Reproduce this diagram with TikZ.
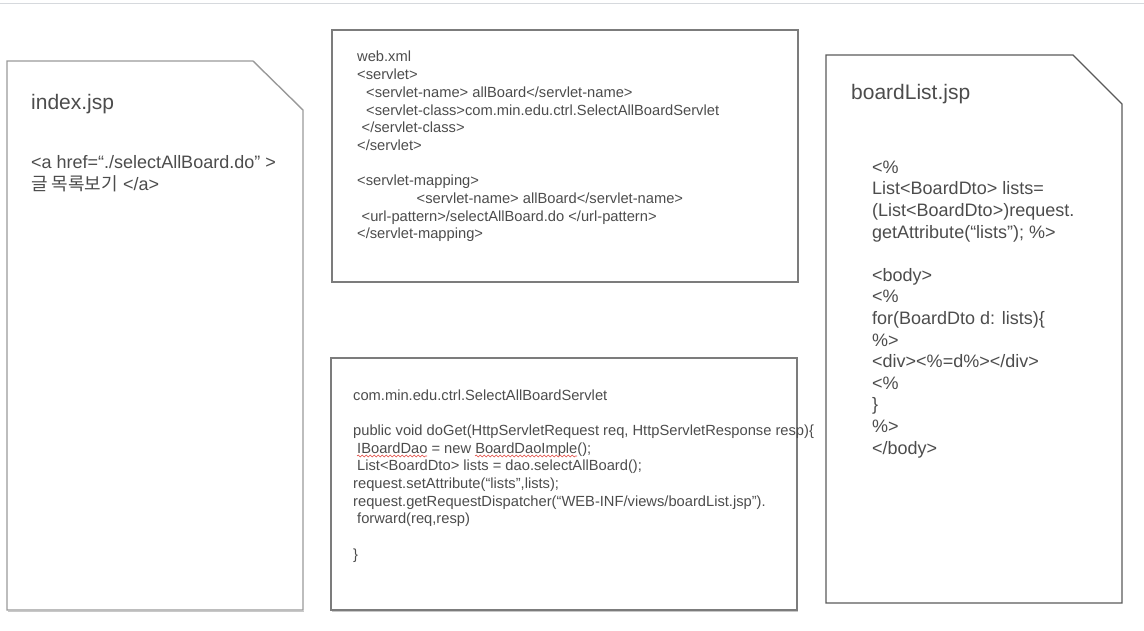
\documentclass[tikz,border=0pt]{standalone}
\usepackage{fontspec}
\setmainfont{Liberation Sans}
\newfontfamily\krfont{Noto Sans CJK KR}
\usepackage{tikz}
\usetikzlibrary{decorations.pathmorphing}
\definecolor{pageline}{HTML}{D6D9DD}
\definecolor{sheetgrey}{HTML}{999999}
\definecolor{midgrey}{HTML}{7C7C7C}
\definecolor{darkline}{HTML}{5A5A5A}
\definecolor{shadowgrey}{HTML}{C8C8C8}
\definecolor{inkgrey}{HTML}{4C4C4C}
\definecolor{spellred}{HTML}{E0443C}
\newcommand{\codeline}[1]{\hbox{#1}}

\begin{document}
\begin{tikzpicture}[
  x=1pt, y=-1pt,
  filebox/.style={line width=1.4pt},
  shadowline/.style={shadowgrey, line width=1.2pt},
  codetxt/.style={anchor=base west, inner sep=0pt, text=inkgrey, font=\fontsize{18}{21.6}\selectfont},
  smalltxt/.style={codetxt, font=\fontsize{14.7}{17.7}\selectfont},
  headtxt/.style={codetxt, font=\fontsize{21}{25}\selectfont},
  squiggle/.style={spellred, line width=0.6pt, decorate, decoration={snake, segment length=4pt, amplitude=0.9pt}}
]
\useasboundingbox (0,0) rectangle (1144,631);
\draw[pageline, line width=1pt] (0,4) -- (1144,4);

% index.jsp
\draw[shadowline] (8,611.5) -- (304,611.5);
\draw[filebox, sheetgrey] (7,61) -- (253,61) -- (303,110) -- (303,610) -- (7,610) -- cycle;
\node[headtxt] (idxhead) at (31,110) {index.jsp};
\node[codetxt] (idxbody) at (31,169) {\vtop{%
  \codeline{<a href=“./selectAllBoard.do” >}
  \codeline{{\krfont 글 목록보기} </a>}}};

% web.xml
\draw[filebox, midgrey, line width=1.2pt] (332,30) rectangle (798,282);
\node[smalltxt] (webxml) at (357,62) {\vtop{%
  \codeline{web.xml}
  \codeline{<servlet>}
  \codeline{\hspace*{9pt}<servlet-name> allBoard</servlet-name>}
  \codeline{\hspace*{9pt}<servlet-class>com.min.edu.ctrl.SelectAllBoardServlet}
  \codeline{\hspace*{4.5pt}</servlet-class>}
  \codeline{</servlet>}
  \codeline{}
  \codeline{<servlet-mapping>}
  \codeline{\hspace*{59.5pt}<servlet-name> allBoard</servlet-name>}
  \codeline{\hspace*{4.5pt}<url-pattern>/selectAllBoard.do </url-pattern>}
  \codeline{</servlet-mapping>}}};

% servlet
\draw[shadowline] (332,611.5) -- (798,611.5);
\draw[filebox, midgrey, line width=1.2pt] (331,358) rectangle (797,610);
\node[smalltxt] (servlet) at (353,400) {\vtop{%
  \codeline{com.min.edu.ctrl.SelectAllBoardServlet}
  \codeline{}
  \codeline{public void doGet(HttpServletRequest req, HttpServletResponse resp)\{}
  \codeline{\hspace*{4pt}IBoardDao = new BoardDaoImple();}
  \codeline{\hspace*{4pt}List<BoardDto> lists = dao.selectAllBoard();}
  \codeline{request.setAttribute(“lists”,lists);}
  \codeline{request.getRequestDispatcher(“WEB-INF/views/boardList.jsp”).}
  \codeline{\hspace*{4pt}forward(req,resp)}
  \codeline{}
  \codeline{\}}}};
\draw[squiggle] (357,456) -- (427,456);
\draw[squiggle] (475,456) -- (577,456);

% boardList.jsp
\draw[filebox, darkline, line width=1.2pt] (826,55) -- (1073,55) -- (1122,104) -- (1122,603) -- (826,603) -- cycle;
\node[headtxt] (listhead) at (851,100) {boardList.jsp};
\node[codetxt] (listbody) at (872,173.3) {\vtop{%
  \codeline{<\%}
  \codeline{List<BoardDto> lists=}
  \codeline{(List<BoardDto>)request.}
  \codeline{getAttribute(“lists”); \%>}
  \codeline{}
  \codeline{<body>}
  \codeline{<\%}
  \codeline{for(BoardDto d: lists)\{}
  \codeline{\%>}
  \codeline{<div><\%=d\%></div>}
  \codeline{<\%}
  \codeline{\}}
  \codeline{\%>}
  \codeline{</body>}}};
\end{tikzpicture}
\end{document}
